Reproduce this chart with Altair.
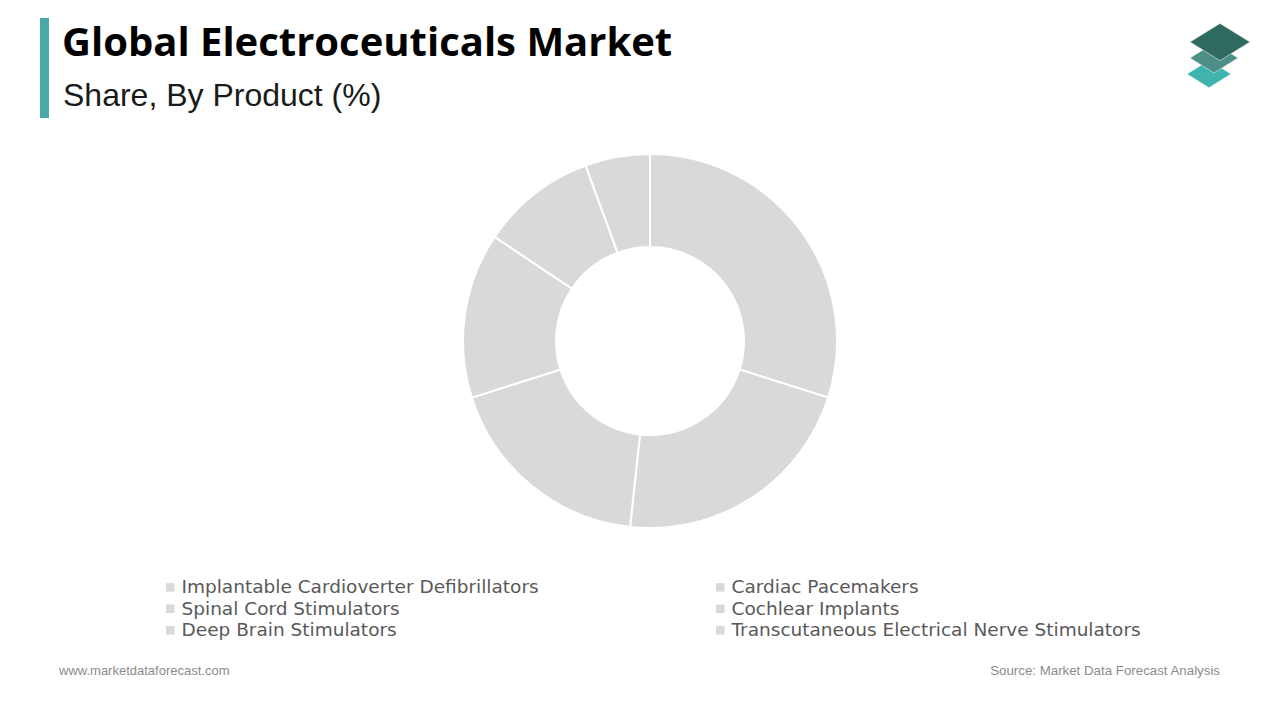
import altair as alt
import pandas as pd

categories = [
    "Implantable Cardioverter Defibrillators",
    "Cardiac Pacemakers",
    "Spinal Cord Stimulators",
    "Cochlear Implants",
    "Deep Brain Stimulators",
    "Transcutaneous Electrical Nerve Stimulators",
]
shares = [29.9, 21.8, 18.4, 14.3, 10.0, 5.6]

title_text = "Global Electroceuticals Market"
subtitle_text = "Share, By Product (%)"
footer_left = "www.marketdataforecast.com"
footer_right = "Source: Market Data Forecast Analysis"

df = pd.DataFrame({"category": categories, "share": shares, "idx": list(range(len(categories)))})

W, H = 1264, 704
OFF = 8  # page margin


def px(v):
    return v - OFF


slice_color = "#d9d9d9"

donut = alt.Chart(df).mark_arc(
    innerRadius=94, outerRadius=187, stroke="white", strokeWidth=2
).encode(
    theta=alt.Theta("share:Q", stack=True),
    order=alt.Order("idx:Q", sort="ascending"),
    color=alt.Color(
        "category:N",
        scale=alt.Scale(domain=categories, range=[slice_color] * len(categories)),
        sort=categories,
        legend=alt.Legend(
            title=None,
            orient="none",
            direction="horizontal",
            legendX=px(161),
            legendY=px(578),
            padding=0,
            columns=2,
            columnPadding=172,
            rowPadding=2.5,
            symbolType="square",
            symbolSize=72,
            symbolStrokeWidth=0,
            symbolFillColor=slice_color,
            labelFont="DejaVu Sans",
            labelFontSize=18.5,
            labelColor="#595959",
            labelLimit=0,
            labelOffset=2,
        ),
    ),
    x=alt.value(px(650)),
    y=alt.value(px(341)),
)


def text_layer(txt, x, y, **kw):
    return alt.Chart(pd.DataFrame({"t": [txt]})).mark_text(**kw).encode(
        text="t:N", x=alt.value(px(x)), y=alt.value(px(y))
    )


title = text_layer(title_text, 62, 56, font="Open Sans", fontWeight="bold", fontSize=40,
                   color="#000000", align="left", baseline="alphabetic")
subtitle = text_layer(subtitle_text, 63, 106, font="Liberation Sans", fontSize=32,
                      color="#1a1a1a", align="left", baseline="alphabetic")
foot_l = text_layer(footer_left, 59, 675, font="Liberation Sans", fontSize=13,
                    color="#8c8c8c", align="left", baseline="alphabetic")
foot_r = text_layer(footer_right, 1220, 675, font="Liberation Sans", fontSize=13.3,
                    color="#8c8c8c", align="right", baseline="alphabetic")

one = pd.DataFrame({"k": [0]})
bar = alt.Chart(one).mark_rect(color="#48aaa6").encode(
    x=alt.value(px(40)), x2=alt.value(px(49)), y=alt.value(px(18)), y2=alt.value(px(118))
)

rhombus = "M0,-0.62L1,0L0,0.62L-1,0Z"


def logo_piece(cx, cy, half_w, color):
    return alt.Chart(one).mark_point(
        shape=rhombus, filled=True, color=color, opacity=1, size=(2 * half_w) ** 2,
        stroke="#ffffff", strokeWidth=0.5,
    ).encode(x=alt.value(px(cx)), y=alt.value(px(cy)))


logo = (logo_piece(1209, 74, 22, "#3fb3ae")
        + logo_piece(1214, 58, 24, "#4b8f87")
        + logo_piece(1220, 42, 30, "#2f6a60"))

chart = alt.layer(bar, title, subtitle, donut, foot_l, foot_r, logo).properties(
    width=W, height=H, padding=0, background="white"
).configure_view(stroke=None)

chart.save("out.html", embed_options={"renderer": "svg", "actions": False})
